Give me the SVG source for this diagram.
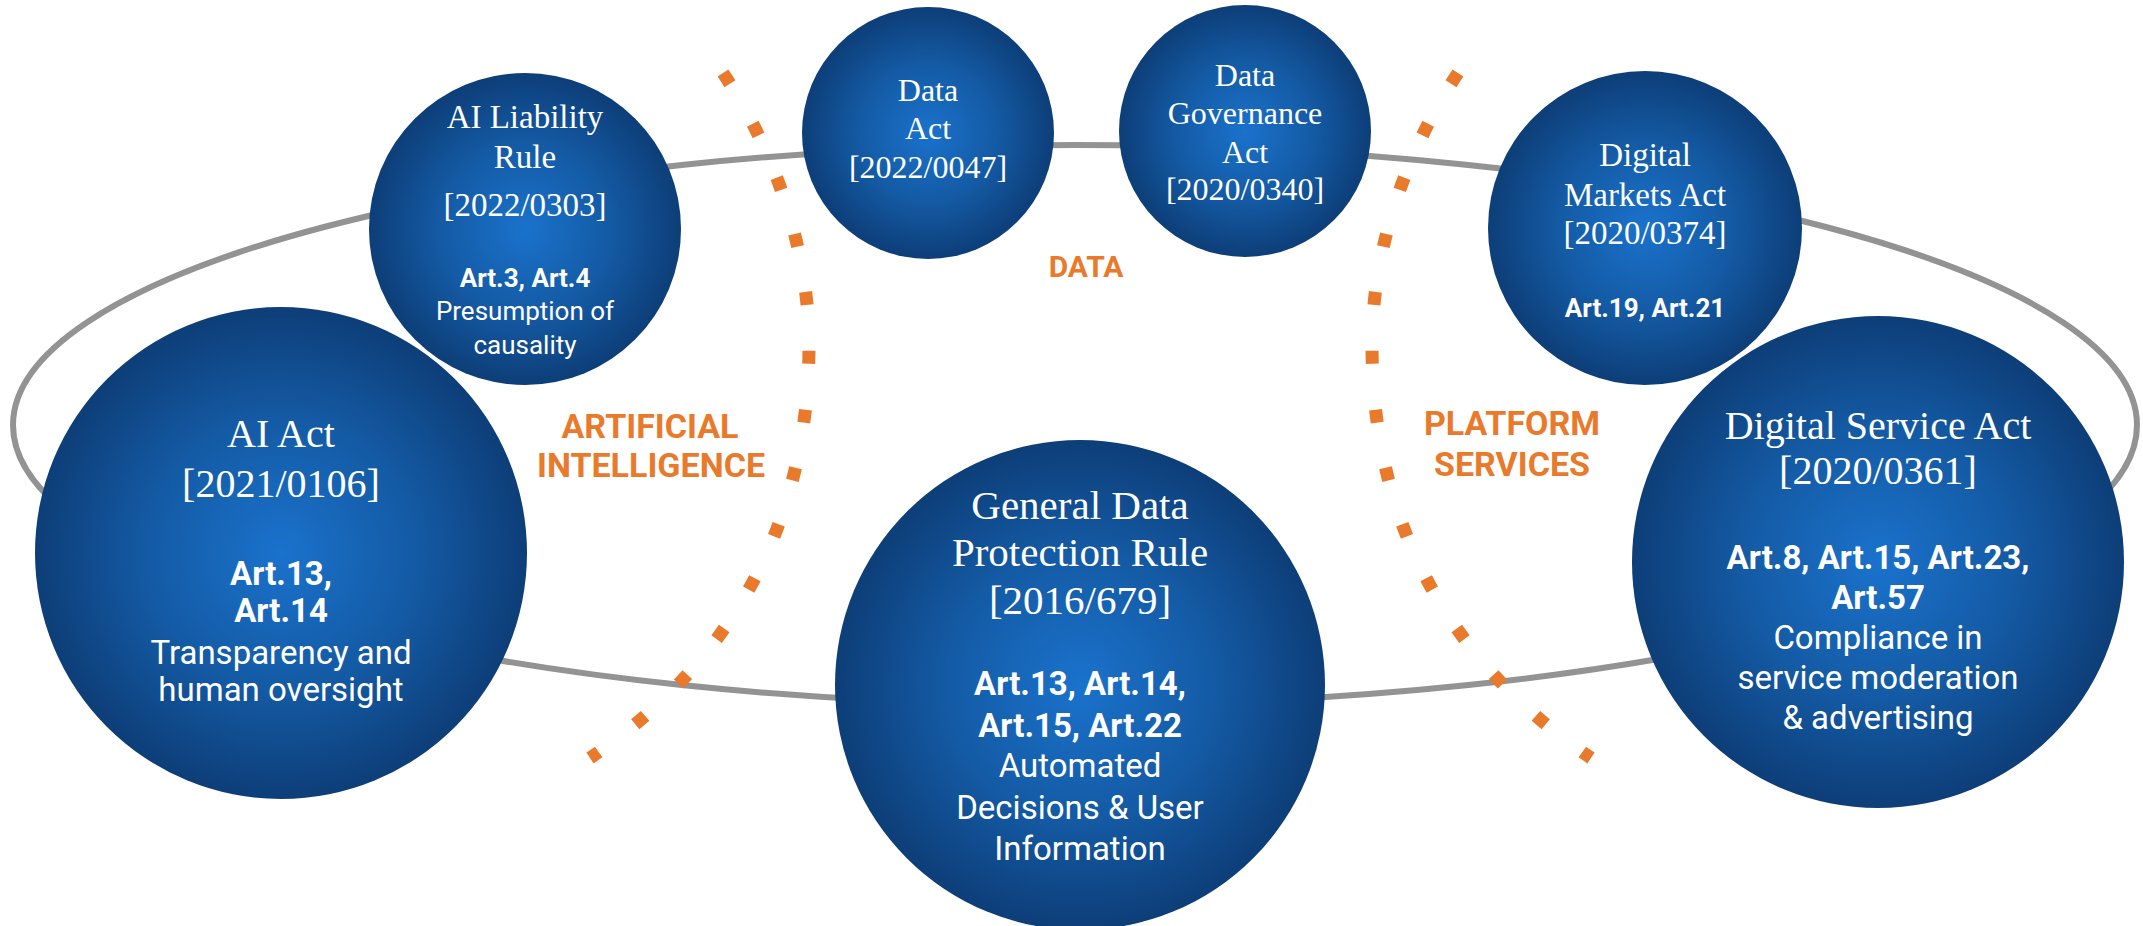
<svg xmlns="http://www.w3.org/2000/svg" width="2143" height="926" viewBox="0 0 2143 926">
<defs>
<radialGradient id="blue" cx="50%" cy="50%" r="50%">
<stop offset="0" stop-color="#1a72cc"/>
<stop offset="0.55" stop-color="#145aa4"/>
<stop offset="1" stop-color="#0d3e78"/>
</radialGradient>
<style>
.node{fill:url(#blue);}
.ser{font-family:"Liberation Serif","Times New Roman",serif;fill:#fff;text-anchor:middle;}
.sans{font-family:Roboto,"Liberation Sans",Arial,sans-serif;fill:#fff;text-anchor:middle;}
.b{font-weight:700;}
.ring{fill:none;stroke:#939393;stroke-width:6;}
.dots{fill:none;stroke:#E97A2C;stroke-width:13;stroke-dasharray:13 46;}
.lab{font-family:Roboto,"Liberation Sans",Arial,sans-serif;font-weight:700;fill:#E97A2C;text-anchor:middle;}
</style>
</defs>
<rect width="2143" height="926" fill="#fff"/>

<g id="connectors">
<ellipse class="ring" cx="1075" cy="425" rx="1062" ry="280"/>
</g>

<g id="dividers">
<path id="divL" class="dots" d="M723,73 C768,140 809,240 809,345 C809,500 750,650 590,758"/>
<use href="#divL" transform="translate(2181,0) scale(-1,1)"/>
</g>

<g id="labels">
<text class="lab" x="650" y="438" font-size="34">ARTIFICIAL</text>
<text class="lab" x="651" y="477" font-size="34">INTELLIGENCE</text>
<text class="lab" x="1086" y="277" font-size="30">DATA</text>
<text class="lab" x="1512" y="435" font-size="34">PLATFORM</text>
<text class="lab" x="1512" y="476" font-size="34">SERVICES</text>
</g>

<g id="ai-liability">
<circle class="node" cx="525" cy="229" r="156"/>
<text class="ser" font-size="33"><tspan x="525" y="128">AI Liability</tspan><tspan x="525" y="168">Rule</tspan><tspan x="525" y="216">[2022/0303]</tspan></text>
<text class="sans" font-size="26"><tspan class="b" x="525" y="287">Art.3, Art.4</tspan><tspan x="525" y="320">Presumption of</tspan><tspan x="525" y="354">causality</tspan></text>
</g>

<g id="data-act">
<circle class="node" cx="928" cy="133" r="126"/>
<text class="ser" font-size="32"><tspan x="928" y="101">Data</tspan><tspan x="928" y="139">Act</tspan><tspan x="928" y="178">[2022/0047]</tspan></text>
</g>

<g id="data-governance-act">
<circle class="node" cx="1245" cy="131" r="126"/>
<text class="ser" font-size="32"><tspan x="1245" y="86">Data</tspan><tspan x="1245" y="124">Governance</tspan><tspan x="1245" y="163">Act</tspan><tspan x="1245" y="200">[2020/0340]</tspan></text>
</g>

<g id="digital-markets-act">
<circle class="node" cx="1645" cy="228" r="157"/>
<text class="ser" font-size="33"><tspan x="1645" y="166">Digital</tspan><tspan x="1645" y="206">Markets Act</tspan><tspan x="1645" y="244">[2020/0374]</tspan></text>
<text class="sans b" font-size="26" x="1645" y="317">Art.19, Art.21</text>
</g>

<g id="ai-act">
<circle class="node" cx="281" cy="553" r="246"/>
<text class="ser" font-size="40"><tspan x="281" y="447">AI Act</tspan><tspan x="281" y="497">[2021/0106]</tspan></text>
<text class="sans" font-size="33"><tspan class="b" x="281" y="585">Art.13,</tspan><tspan class="b" x="281" y="622">Art.14</tspan><tspan x="281" y="664">Transparency and</tspan><tspan x="281" y="701">human oversight</tspan></text>
</g>

<g id="gdpr">
<circle class="node" cx="1080" cy="685" r="245"/>
<text class="ser" font-size="41"><tspan x="1080" y="519">General Data</tspan><tspan x="1080" y="566">Protection Rule</tspan><tspan x="1080" y="614">[2016/679]</tspan></text>
<text class="sans" font-size="33"><tspan class="b" x="1080" y="695">Art.13, Art.14,</tspan><tspan class="b" x="1080" y="737">Art.15, Art.22</tspan><tspan x="1080" y="777">Automated</tspan><tspan x="1080" y="819">Decisions &amp; User</tspan><tspan x="1080" y="860">Information</tspan></text>
</g>

<g id="digital-service-act">
<circle class="node" cx="1878" cy="562" r="246"/>
<text class="ser" font-size="40"><tspan x="1878" y="439">Digital Service Act</tspan><tspan x="1878" y="484">[2020/0361]</tspan></text>
<text class="sans" font-size="33"><tspan class="b" x="1878" y="569">Art.8, Art.15, Art.23,</tspan><tspan class="b" x="1878" y="609">Art.57</tspan><tspan x="1878" y="649">Compliance in</tspan><tspan x="1878" y="689">service moderation</tspan><tspan x="1878" y="729">&amp; advertising</tspan></text>
</g>
</svg>
